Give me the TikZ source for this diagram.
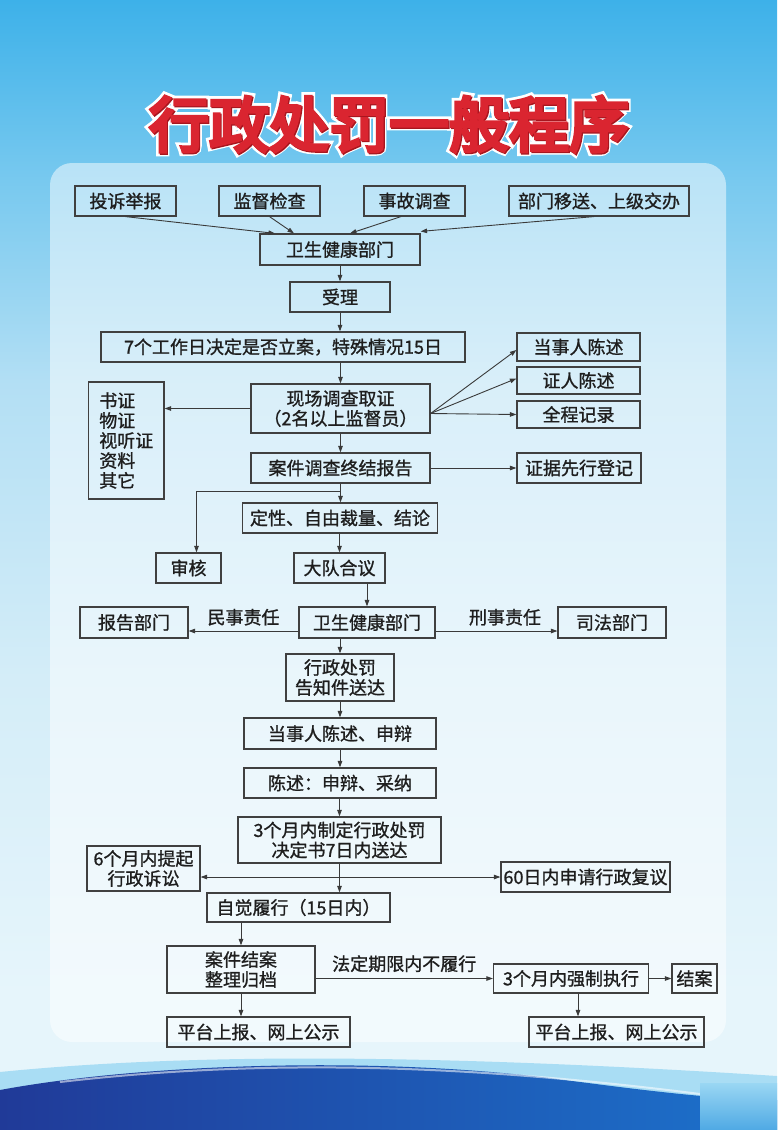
\documentclass[tikz,border=0pt]{standalone}
\usepackage{fontspec}
\setmainfont{Noto Sans CJK SC}
\newfontfamily\titlefont[FakeBold=6]{Noto Sans CJK SC}
\newfontfamily\titlebgfont[FakeBold=15]{Noto Sans CJK SC}
\newfontfamily\boxfont[FakeBold=1.1]{Noto Sans CJK SC}
\usetikzlibrary{arrows.meta,calc}
\definecolor{bgA}{HTML}{3DB1E9}
\definecolor{bgB}{HTML}{78C9EF}
\definecolor{bgC}{HTML}{B3DFF4}
\definecolor{bgD}{HTML}{D4EDF8}
\definecolor{bgE}{HTML}{E6F5FB}
\definecolor{boxc}{HTML}{404040}
\definecolor{linec}{HTML}{3A3A3A}
\definecolor{txt}{HTML}{1E1E1E}
\definecolor{titlered}{HTML}{DA2530}
\definecolor{titledark}{HTML}{A8161F}
\definecolor{wavedark}{HTML}{203A98}
\definecolor{wavemid}{HTML}{1C72CC}
\definecolor{waveband}{HTML}{A9DDF4}
\definecolor{blockA}{HTML}{9AD7F3}
\definecolor{blockB}{HTML}{4FA9E4}
\pgfdeclareverticalshading{bgshade}{100bp}{color(0bp)=(bgE); color(31bp)=(bgE); color(45bp)=(bgD); color(58bp)=(bgC); color(67bp)=(bgB); color(75bp)=(bgA); color(100bp)=(bgA)}
\begin{document}
\begin{tikzpicture}[x=1pt,y=-1pt,
  bx/.style={draw=boxc, line width=1.2pt, inner sep=0pt, font=\boxfont\fontsize{18}{20}\selectfont, text=txt, align=center},
  ar/.style={draw=linec, line width=0.9pt, -{Triangle[length=6.5pt,width=4.5pt]}},
  lbl/.style={font=\boxfont\fontsize{18}{20}\selectfont, text=txt, inner sep=0pt},
  ttl/.style={font=\titlefont\fontsize{60}{60}\selectfont, inner sep=0pt}]
\useasboundingbox (0,0) rectangle (777,1130);
% background
\shade[shading=bgshade] (0,0) rectangle (777,1130);
\fill[white, opacity=0.5, rounded corners=22pt] (50,163) rectangle (726,1042);
% bottom wave
\fill[waveband] (0,1072) .. controls (200,1052) and (450,1055) .. (777,1076) -- (777,1130) -- (0,1130) -- cycle;
\shade[left color=wavedark, right color=wavemid] (0,1090) .. controls (140,1064) and (370,1056) .. (550,1078) .. controls (640,1090) and (720,1100) .. (777,1100) -- (777,1130) -- (0,1130) -- cycle;
\draw[white, opacity=0.55, line width=2pt] (60,1082) .. controls (250,1060) and (450,1062) .. (700,1094);
\shade[top color=blockA, bottom color=blockB] (700,1083) rectangle (777,1130);
% title
\node[font=\titlebgfont\fontsize{60}{60}\selectfont, text=white, inner sep=0pt] (titlebg) at (389,124) {行政处罚一般程序};
\node[ttl, text=titledark] (titlesh) at (390.2,125.2) {行政处罚一般程序};
\node[ttl, text=titlered] (title) at (389,124) {行政处罚一般程序};
% boxes
\node[bx, minimum width=101pt, minimum height=30pt] (ts) at (125.5,201) {投诉举报};
\node[bx, minimum width=101pt, minimum height=30pt] (jd) at (269.5,201) {监督检查};
\node[bx, minimum width=101pt, minimum height=30pt] (sg) at (414.5,201) {事故调查};
\node[bx, minimum width=180pt, minimum height=30pt] (bm) at (599,201) {部门移送、上级交办};
\node[bx, minimum width=160pt, minimum height=31pt] (wj1) at (340,249.5) {卫生健康部门};
\node[bx, minimum width=100pt, minimum height=30pt] (sl) at (340,297) {受理};
\node[bx, minimum width=364pt, minimum height=30pt] (la) at (283,347) {7个工作日决定是否立案，特殊情况15日};
\node[bx, minimum width=123pt, minimum height=28pt] (dsr) at (578.5,347) {当事人陈述};
\node[bx, minimum width=123pt, minimum height=27pt] (zr) at (578.5,380.5) {证人陈述};
\node[bx, minimum width=123pt, minimum height=27pt] (qc) at (578.5,414.5) {全程记录};
\node[bx, minimum width=179pt, minimum height=49pt] (xc) at (340.5,408.5) {现场调查取证\\（2名以上监督员）};
\node[bx, text width=54pt, inner xsep=10.7pt, minimum height=117pt, align=left] (sz) at (126.3,440.5) {书证\\物证\\视听证\\资料\\其它};
\node[bx, minimum width=179pt, minimum height=30pt] (ja) at (340.5,468) {案件调查终结报告};
\node[bx, minimum width=124pt, minimum height=30pt] (zj) at (579,468) {证据先行登记};
\node[bx, minimum width=195pt, minimum height=30pt] (dx) at (340,518) {定性、自由裁量、结论};
\node[bx, minimum width=65pt, minimum height=30pt] (sh) at (188.5,568) {审核};
\node[bx, minimum width=91pt, minimum height=30pt] (dd) at (339.5,568) {大队合议};
\node[bx, minimum width=108pt, minimum height=31pt] (bg) at (134,622.5) {报告部门};
\node[bx, minimum width=136pt, minimum height=31pt] (wj2) at (367,622.5) {卫生健康部门};
\node[bx, minimum width=108pt, minimum height=31pt] (sf) at (612,622.5) {司法部门};
\node[bx, minimum width=108pt, minimum height=47pt] (gz) at (340,677.5) {行政处罚\\告知件送达};
\node[bx, minimum width=192pt, minimum height=31pt] (ds2) at (340,733.5) {当事人陈述、申辩};
\node[bx, minimum width=192pt, minimum height=30pt] (cs) at (340,783) {陈述：申辩、采纳};
\node[bx, minimum width=203pt, minimum height=46pt] (jds) at (339.5,840) {3个月内制定行政处罚\\决定书7日内送达};
\node[bx, minimum width=113pt, minimum height=45pt] (ss) at (143.5,868.5) {6个月内提起\\行政诉讼};
\node[bx, minimum width=169pt, minimum height=30pt] (fy) at (585.5,877) {60日内申请行政复议};
\node[bx, minimum width=183pt, minimum height=29pt] (zx) at (298.5,907.5) {自觉履行（15日内）};
\node[bx, minimum width=148pt, minimum height=47pt] (ja2) at (241,969.5) {案件结案\\整理归档};
\node[bx, minimum width=155pt, minimum height=29pt] (qz) at (571,978.5) {3个月内强制执行};
\node[bx, minimum width=45pt, minimum height=29pt] (jan) at (694.5,978.5) {结案};
\node[bx, minimum width=183pt, minimum height=30pt] (pt1) at (258.5,1032) {平台上报、网上公示};
\node[bx, minimum width=175pt, minimum height=30pt] (pt2) at (616.5,1032) {平台上报、网上公示};
% connector helper points
\coordinate (fo) at ([yshift=-5pt]xc.east);
\coordinate (jn) at ($(ja.south)+(0,8)$);
\coordinate (wl) at ([yshift=-8.5pt]wj2.west);
\coordinate (wr) at ([yshift=-8.5pt]wj2.east);
\coordinate (qs) at ([xshift=7pt]qz.south);
\coordinate (hj) at (jds.south |- fy.west);
% connectors
\draw[ar] (ts.south) -- ([xshift=-65pt]wj1.north);
\draw[ar] (jd.south) -- ([xshift=-46pt]wj1.north);
\draw[ar] ([xshift=-13.5pt]sg.south) -- ([xshift=10pt]wj1.north);
\draw[ar] ([xshift=-5pt]bm.south) -- ([yshift=2pt]wj1.north east);
\draw[ar] (wj1.south) -- (sl.north);
\draw[ar] (sl.south) -- (sl.south |- la.north);
\draw[ar] (xc.north |- la.south) -- (xc.north);
\draw[ar] (xc.west) -- (sz.east |- xc.west);
\draw[ar] (fo) -- ([yshift=-3pt]dsr.west);
\draw[ar] (fo) -- ([yshift=2pt]zr.west);
\draw[ar] (fo) -- (qc.west);
\draw[ar] (xc.south) -- (ja.north);
\draw[ar] (ja.east) -- (zj.west);
\draw[ar] (ja.south) -- (ja.south |- dx.north);
\draw[ar] (jn) -| ([xshift=8pt]sh.north);
\draw[ar] (dd.north |- dx.south) -- (dd.north);
\draw[ar] (wj2.north |- dd.south) -- (wj2.north);
\draw[ar] (wl) -- (bg.east |- wl) node[lbl, midway, above=5pt] (ms) {民事责任};
\draw[ar] (wr) -- (sf.west |- wr) node[lbl, pos=0.57, above=5pt] (xs) {刑事责任};
\draw[ar] (gz.north |- wj2.south) -- (gz.north);
\draw[ar] (gz.south) -- (ds2.north);
\draw[ar] (ds2.south) -- (cs.north);
\draw[ar] (jds.north |- cs.south) -- (jds.north);
\draw[ar] (jds.south) -- (jds.south |- zx.north);
\draw[ar] (hj) -- (ss.east |- hj);
\draw[ar] (hj) -- (fy.west);
\draw[ar] (ja2.north |- zx.south) -- (ja2.north);
\draw[ar] (ja2.east |- qz.west) -- (qz.west) node[lbl, midway, above=6pt] (fd) {法定期限内不履行};
\draw[ar] (qz.east) -- (jan.west);
\draw[ar] (ja2.south) -- (ja2.south |- pt1.north);
\draw[ar] (qs) -- (qs |- pt2.north);
\end{tikzpicture}
\end{document}
